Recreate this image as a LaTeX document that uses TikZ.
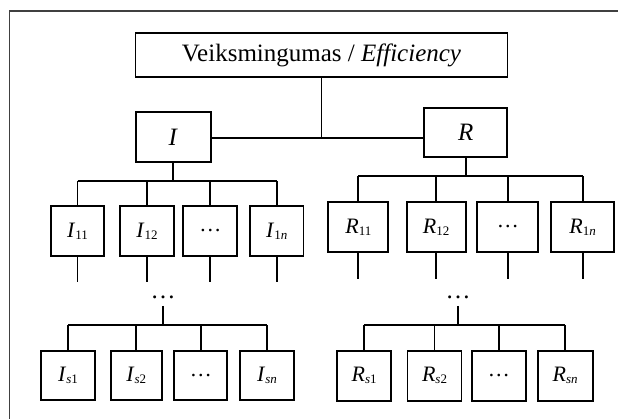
\documentclass[tikz,border=0pt]{standalone}
\usepackage{fontspec}
\setmainfont{Liberation Serif}
\newcommand\lbl[2]{\textit{#1}\raisebox{-2pt}{\fontsize{13}{13}\selectfont #2}}
\begin{document}
\begin{tikzpicture}[x=1pt,y=-1pt,
  box/.style={draw,line width=1.7pt,inner sep=0pt,minimum height=50pt},
  con/.style={line width=1.7pt},
  big/.style={font=\fontsize{25}{25}\selectfont},
  lab/.style={font=\fontsize{22}{22}\selectfont},
  frame/.style={line width=1.3pt,draw=black!75}]
\useasboundingbox (0,0) rectangle (618,419);
\draw[frame] (9.5,419) -- (9.5,11) -- (618,11);

% top levels
\node[box,big,minimum width=372pt,minimum height=44pt] (top) at (321.5,55.3) {Veiksmingumas / \textit{Efficiency}};
\node[box,big,minimum width=75pt,minimum height=49.5pt] (I) at (173.3,137) {\textit{I}};
\node[box,big,minimum width=83pt,minimum height=49pt] (R) at (465.8,132.2) {\textit{R}};
\coordinate (j) at (321.5,137.7);
\draw[con] (top.south) -- (j);
\draw[con] (I.east |- j) -- (R.west |- j);

% I first row
\coordinate (bI) at (0,181);
\coordinate (tI) at (0,282);
\node[box,lab,minimum width=53.5pt] (I11) at (77.5,231) {\lbl{I}{11}};
\node[box,lab,minimum width=53.5pt] (I12) at (147,231) {\lbl{I}{12}};
\node[box,lab,minimum width=54pt] (Id) at (210.3,231) {…};
\node[box,lab,minimum width=53.5pt] (I1n) at (276.7,231) {\lbl{I}{1\textit{n}}};
\draw[con] (I.south) -- (I.south |- bI);
\draw[con] (I11.north |- bI) -- (I1n.north |- bI);
\foreach \n in {I11,I12,Id,I1n}{
  \draw[con] (\n.north) -- (\n.north |- bI);
  \draw[con] (\n.south) -- (\n.south |- tI);
}

% R first row
\coordinate (bR) at (0,176);
\coordinate (tR) at (0,279);
\node[box,lab,minimum width=60pt] (R11) at (358.3,227) {\lbl{R}{11}};
\node[box,lab,minimum width=59pt] (R12) at (436.2,227) {\lbl{R}{12}};
\node[box,lab,minimum width=61pt] (Rd) at (507.8,227) {…};
\node[box,lab,minimum width=63pt] (R1n) at (582.7,227) {\lbl{R}{1\textit{n}}};
\draw[con] (R.south) -- (R.south |- bR);
\draw[con] (R11.north |- bR) -- (R1n.north |- bR);
\foreach \n in {R11,R12,Rd,R1n}{
  \draw[con] (\n.north) -- (\n.north |- bR);
  \draw[con] (\n.south) -- (\n.south |- tR);
}

% middle dots
\node[big,inner sep=0pt] (dI) at (163,297) {…};
\node[big,inner sep=0pt] (dR) at (458,297) {…};

% I second row
\coordinate (cI) at (0,325);
\node[box,lab,minimum width=54pt,minimum height=49pt] (Is1) at (68,375.5) {\lbl{I}{\textit{s}1}};
\node[box,lab,minimum width=51pt,minimum height=49pt] (Is2) at (136.3,375.5) {\lbl{I}{\textit{s}2}};
\node[box,lab,minimum width=53pt,minimum height=49pt] (Id2) at (200.8,375.5) {…};
\node[box,lab,minimum width=54pt,minimum height=49pt] (Isn) at (267,375.5) {\lbl{I}{\textit{sn}}};
\draw[con] ([yshift=-9pt]dI.center) -- (dI.center |- cI);
\draw[con] (Is1.north |- cI) -- (Isn.north |- cI);
\foreach \n in {Is1,Is2,Id2,Isn}{
  \draw[con] (\n.north) -- (\n.north |- cI);
}

% R second row
\coordinate (cR) at (0,325);
\node[box,lab,minimum width=54pt] (Rs1) at (364.2,375.7) {\lbl{R}{\textit{s}1}};
\node[box,lab,minimum width=54pt] (Rs2) at (434.5,375.7) {\lbl{R}{\textit{s}2}};
\node[box,lab,minimum width=54pt] (Rd2) at (498.8,375.7) {…};
\node[box,lab,minimum width=55pt] (Rsn) at (565.2,375.7) {\lbl{R}{\textit{sn}}};
\draw[con] ([yshift=-9pt]dR.center) -- (dR.center |- cR);
\draw[con] (Rs1.north |- cR) -- (Rsn.north |- cR);
\foreach \n in {Rs1,Rs2,Rd2,Rsn}{
  \draw[con] (\n.north) -- (\n.north |- cR);
}
\end{tikzpicture}
\end{document}
